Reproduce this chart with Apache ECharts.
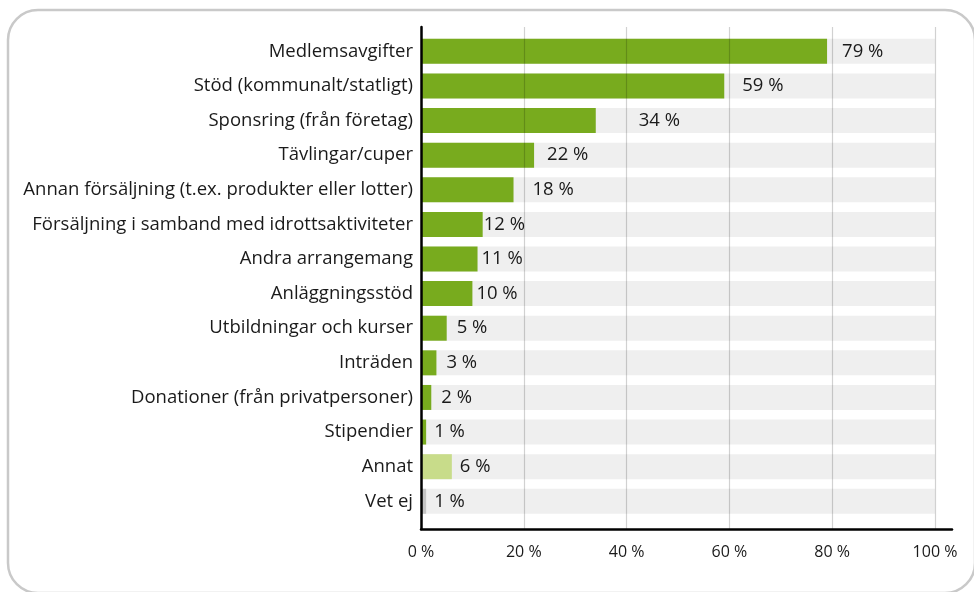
<!DOCTYPE html>
<html>
<head>
<meta charset="utf-8">
<style>
  html, body { margin: 0; padding: 0; background: #ffffff; }
  #chart { width: 974px; height: 592px; }
</style>
<script src="https://cdn.jsdelivr.net/npm/echarts@6/dist/echarts.min.js"></script>
</head>
<body>
<div id="chart"></div>
<script>
// Finansieringskällor, andel (%)
const categories = [
  'Medlemsavgifter',
  'Stöd (kommunalt/statligt)',
  'Sponsring (från företag)',
  'Tävlingar/cuper',
  'Annan försäljning (t.ex. produkter eller lotter)',
  'Försäljning i samband med idrottsaktiviteter',
  'Andra arrangemang',
  'Anläggningsstöd',
  'Utbildningar och kurser',
  'Inträden',
  'Donationer (från privatpersoner)',
  'Stipendier',
  'Annat',
  'Vet ej'
];
const values = [79, 59, 34, 22, 18, 12, 11, 10, 5, 3, 2, 1, 6, 1];
const xTicks = [0, 20, 40, 60, 80, 100];

// bar colour groups: regular sources, "other", "don't know"
const barColors = [
  '#78ab1e', '#78ab1e', '#78ab1e', '#78ab1e', '#78ab1e', '#78ab1e', '#78ab1e',
  '#78ab1e', '#78ab1e', '#78ab1e', '#78ab1e', '#78ab1e', '#c8dc8a', '#c4c4c4'
];
// gap between bar end and its value label
const labelGap = [15, 18, 43, 13, 19, 1, 4, 4, 10, 10, 10, 8, 8, 8];

const FONT = '"Open Sans"';
const TEXT = '#1a1a1a';

const chart = echarts.init(document.getElementById('chart'), null, { renderer: 'canvas' });

const plotLeft = 421;
const plotRight = 974 - 935;

chart.setOption({
  animation: false,
  backgroundColor: '#ffffff',
  graphic: [{
    type: 'rect',
    shape: { x: 8, y: 10, width: 967, height: 583, r: 30 },
    style: { fill: 'none', stroke: '#c9c9c9', lineWidth: 2.5 },
    z: -10
  }],
  grid: [
    // bars
    { left: plotLeft, right: plotRight, top: 34, bottom: 73.4 },
    // value scale, gridlines and left axis line
    { left: plotLeft, right: plotRight, top: 27, bottom: 63 },
    // bottom axis line, running a bit past 100 %
    { left: plotLeft, right: 22, top: 27, bottom: 63 }
  ],
  xAxis: [
    { gridIndex: 0, type: 'value', min: 0, max: 100, show: false },
    {
      gridIndex: 1, type: 'value', min: 0, max: 100, interval: 20, z: 10,
      axisLine: { show: false },
      axisTick: { show: false },
      splitLine: { show: true, lineStyle: { color: 'rgba(0,0,0,0.18)', width: 1.2 } },
      axisLabel: {
        margin: 15,
        color: TEXT, fontFamily: FONT, fontSize: 16,
        formatter: v => xTicks.includes(v) ? v + ' %' : ''
      }
    },
    {
      gridIndex: 2, type: 'value', min: 0, max: 1, z: 10,
      axisLine: { show: true, lineStyle: { color: '#000000', width: 2.5 } },
      axisTick: { show: false }, axisLabel: { show: false }, splitLine: { show: false }
    }
  ],
  yAxis: [
    {
      gridIndex: 0, type: 'category', data: categories, inverse: true,
      axisLine: { show: false }, axisTick: { show: false },
      axisLabel: { margin: 8, color: TEXT, fontFamily: FONT, fontSize: 18.5 }
    },
    {
      gridIndex: 1, type: 'value', min: 0, max: 1, z: 11,
      axisLine: { show: true, lineStyle: { color: '#000000', width: 2.5 } },
      axisTick: { show: false }, axisLabel: { show: false }, splitLine: { show: false }
    },
    {
      gridIndex: 2, type: 'value', min: 0, max: 1, show: false
    }
  ],
  series: [{
    type: 'bar',
    xAxisIndex: 0,
    yAxisIndex: 0,
    barWidth: 25,
    showBackground: true,
    backgroundStyle: { color: '#efefef' },
    data: values.map((v, i) => ({
      value: v,
      itemStyle: { color: barColors[i] },
      label: { distance: labelGap[i] }
    })),
    label: {
      show: true,
      position: 'right',
      color: TEXT,
      fontFamily: FONT,
      fontSize: 18.5,
      formatter: p => p.value + ' %'
    }
  }]
});
</script>
</body>
</html>
